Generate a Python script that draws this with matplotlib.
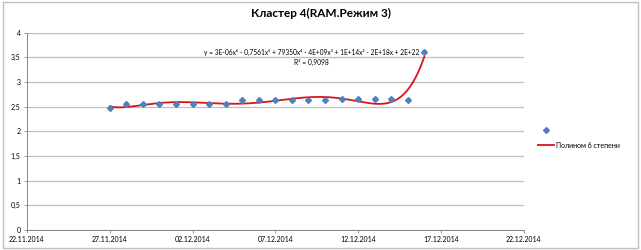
import numpy as np
import pandas as pd
import matplotlib
matplotlib.use("Agg")
import matplotlib.pyplot as plt
import matplotlib.dates as mdates
from matplotlib.patches import Rectangle

plt.rcParams['font.family'] = ['Lato', 'DejaVu Sans']

# data
dates = pd.date_range("2014-11-27", "2014-12-16", freq="D")
values = [2.47, 2.55, 2.55, 2.55, 2.56, 2.56, 2.56, 2.56, 2.63, 2.63,
          2.63, 2.63, 2.63, 2.63, 2.65, 2.66, 2.66, 2.66, 2.63, 3.60]
x_ticks = pd.date_range("2014-11-22", "2014-12-22", freq="5D")
y_ticks = [0, 0.5, 1, 1.5, 2, 2.5, 3, 3.5, 4]
title = "Кластер 4(RAM.Режим 3)"
trend_label = "Полином 6 степени"
equation = "y = 3E-06x⁶ - 0,7561x⁵ + 79350x⁴ - 4E+09x³ + 1E+14x² - 2E+18x + 2E+22"
r2_text = "R² = 0,9098"

fig = plt.figure(figsize=(6.41, 2.5), dpi=100)
ax = fig.add_axes([0.042, 0.081, 0.775, 0.788])

# chart border
fig.patches.append(Rectangle((0.004, 0.008), 0.992, 0.984, transform=fig.transFigure,
                             fill=False, edgecolor='#BFBFBF', linewidth=1.0))

xnum = mdates.date2num(dates)
pts, = ax.plot(xnum, values, linestyle='none', marker='D', markersize=3.0,
               color='#4F81BD', zorder=3)

# 6th degree polynomial trend
x0 = xnum[0]
coef = np.polyfit(xnum - x0, values, 6)
xs = np.linspace(xnum[0], xnum[-1], 300)
trend, = ax.plot(xs, np.polyval(coef, xs - x0), color='#D9151B', linewidth=1.3, zorder=2)

ax.text(xnum[12] + 0.2, 3.52, equation, fontsize=4.8, ha='center', va='bottom')
ax.text(xnum[12] + 0.2, 3.46, r2_text, fontsize=4.8, ha='center', va='top')

ax.set_xlim(mdates.date2num(x_ticks[0]), mdates.date2num(x_ticks[-1]))
ax.set_ylim(0, 4)
ax.set_xticks(mdates.date2num(x_ticks))
ax.set_xticklabels([d.strftime("%d.%m.%Y") for d in x_ticks])
ax.set_yticks(y_ticks)
ax.set_yticklabels([str(v).replace('.', ',').rstrip('0').rstrip(',') if v != 0 else '0' for v in y_ticks])
ax.tick_params(labelsize=5, length=2.5, width=0.6, color='#868686', pad=2)
ax.grid(axis='y', color='#BFBFBF', linewidth=0.9)
ax.set_axisbelow(True)
for s in ['top', 'right']:
    ax.spines[s].set_visible(False)
ax.spines['left'].set_color('#868686')
ax.spines['bottom'].set_color('#868686')
ax.spines['left'].set_linewidth(0.7)
ax.spines['bottom'].set_linewidth(0.7)

fig.text(0.5, 0.945, title, fontsize=8.5, fontweight='bold', ha='center', va='center')

fig.legend([pts, trend], ['', trend_label], loc='center left',
           bbox_to_anchor=(0.83, 0.45), frameon=False, fontsize=5,
           handlelength=2.2, handletextpad=0.3, labelspacing=1.2)

fig.savefig("out.png", dpi=100)
